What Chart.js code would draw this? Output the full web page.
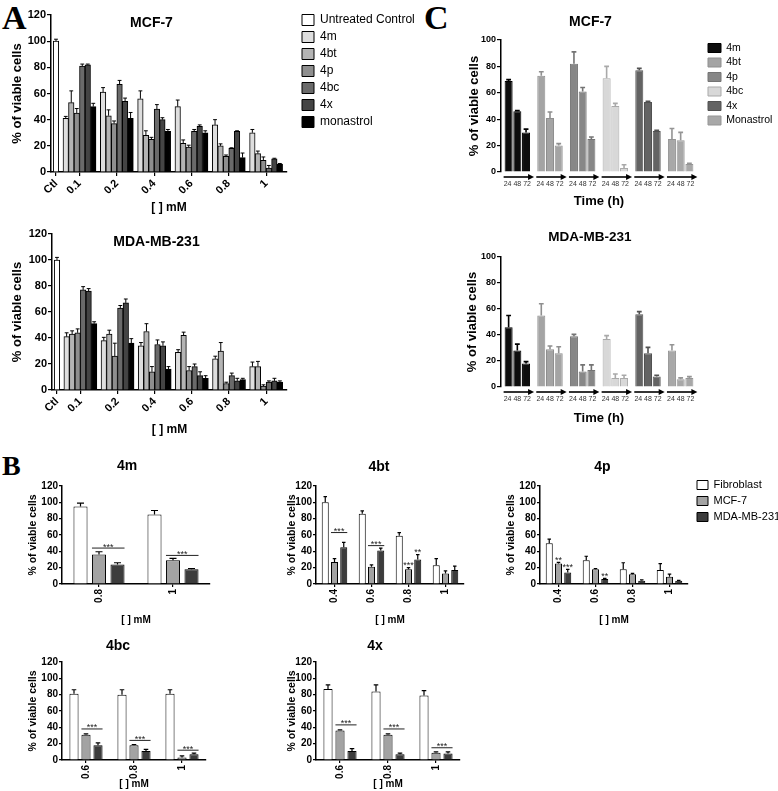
<!DOCTYPE html>
<html><head><meta charset="utf-8"><title>Cell viability</title>
<script src="https://cdn.jsdelivr.net/npm/chart.js@4.4.1/dist/chart.umd.min.js"></script>
<style>
html,body{margin:0;padding:0;background:#fff;overflow:hidden;}
#fig{position:relative;width:778px;height:791px;overflow:hidden;background:#fff;}
#fig canvas{position:absolute;}
.pl{position:absolute;font-family:"Liberation Serif","Times New Roman",serif;font-weight:bold;line-height:1;color:#000;}
</style></head><body>
<div id="fig">
 <div class="pl" style="left:2px;top:1px;font-size:34px">A</div>
 <div class="pl" style="left:2px;top:452px;font-size:28px">B</div>
 <div class="pl" style="left:424px;top:1px;font-size:34px">C</div>
</div>
<script>
// ================= DATA =================
const yTitle = '% of viable cells';
const doseTitle = '[ ] mM';
const timeTitle = 'Time (h)';

// ---- Panel A ----
const aDoses = ['Ctl', '0.1', '0.2', '0.4', '0.6', '0.8', '1'];
const aSeries = ['4m', '4bt', '4p', '4bc', '4x', 'monastrol'];
const aCtlLabel = 'Untreated Control';
const aMcfCtl = [100];
const aMcfCtlErr = [1.5];
const aMcfVals = [
  [41, 61, 56, 50, 36, 30],
  [53, 43, 28, 22, 20, 14],
  [45, 37, 25, 19, 12, 9],
  [81, 67, 48, 31, 18, 3],
  [82, 54, 40, 35, 31, 10],
  [50, 41, 31, 30, 11, 6]
];
const aMcfErrs = [
  [1.5, 3.5, 6, 5, 4, 2.5],
  [9, 4.5, 3.5, 2.5, 1.5, 2],
  [3.5, 2, 1.5, 1.5, 1, 2.5],
  [1.5, 3, 3.5, 1.5, 0.5, 2],
  [0.5, 2.5, 1.5, 1, 0.5, 0.5],
  [2.5, 4.5, 1.5, 1.5, 3.5, 0.5]
];
const aMdaCtl = [100];
const aMdaCtlErr = [2];
const aMdaVals = [
  [41, 38, 34, 29, 24, 18],
  [43, 43, 45, 42, 30, 18],
  [44, 26, 14, 15, 5, 3],
  [77, 63, 35, 18, 11, 6],
  [76, 67, 34, 11, 7, 7],
  [51, 36, 16, 9, 8, 6]
];
const aMdaErrs = [
  [3, 2.5, 2.5, 2, 2, 3.5],
  [2.5, 3, 6, 2.5, 6.5, 4],
  [3, 10, 4, 3, 1, 1],
  [2.5, 2, 3.5, 2, 2, 1],
  [2, 3, 3, 3, 2, 2],
  [1.5, 3.5, 2, 2, 1, 1]
];

// ---- Panel C (rows = compound, columns = 24/48/72 h) ----
const cCompounds = ['4m', '4bt', '4p', '4bc', '4x', 'Monastrol'];
const cTimes = ['24', '48', '72'];
const cMcfVals = [[69, 46, 30], [73, 41, 20], [82, 61, 25], [71, 50, 3], [77, 53, 31], [25, 24, 6]];
const cMcfErrs = [[1, 0.5, 2.5], [3, 4.5, 1.5], [9, 3, 1.5], [9, 2, 2.5], [1.5, 0.5, 0.5], [8, 6, 0.5]];
const cMdaVals = [[46, 28, 18], [55, 29, 26], [39, 12, 13], [37, 7, 7], [56, 26, 8], [28, 6, 7]];
const cMdaErrs = [[9, 5, 1.5], [9, 2.5, 5], [1.5, 5, 4], [2.5, 3, 2], [2, 4.5, 1], [4.5, 1, 1]];

// ---- Panel B (rows = Fibroblast, MCF-7, MDA-MB-231) ----
const bLines = ['Fibroblast', 'MCF-7', 'MDA-MB-231'];
const b4mDoses = ['0.8', '1'];
const b4mVals = [[95, 85], [36, 29], [24, 18]];
const b4mErrs = [[4, 5], [3.5, 2.5], [2, 1]];
const b4mSig = [{group: 0, bars: [1, 2], level: 44, label: '***'}, {group: 1, bars: [1, 2], level: 35, label: '***'}];

const b4btDoses = ['0.4', '0.6', '0.8', '1'];
const b4btVals = [[100, 86, 59, 23], [27, 21, 18, 13], [45, 41, 30, 17]];
const b4btErrs = [[7, 3.5, 4, 8], [4, 2.5, 2, 3], [6, 3, 6, 5]];
const b4btSig = [{group: 0, bars: [1, 2], level: 63, label: '***'}, {group: 1, bars: [1, 2], level: 47, label: '***'},
                 {group: 2, bar: 1, label: '***'}, {group: 2, bar: 2, label: '**'}];

const b4pDoses = ['0.4', '0.6', '0.8', '1'];
const b4pVals = [[50, 29, 18, 17], [25, 18, 12, 9], [14, 6, 4, 4]];
const b4pErrs = [[5, 5, 8, 8], [1.5, 1, 1, 3], [4, 1, 1, 0.5]];
const b4pSig = [{group: 0, bar: 1, label: '**'}, {group: 0, bar: 2, label: '***'}, {group: 1, bar: 2, label: '**'}];

const b4bcDoses = ['0.6', '0.8', '1'];
const b4bcVals = [[81, 80, 81], [31, 18, 3], [18, 11, 7]];
const b4bcErrs = [[5, 6, 5], [1, 1, 2], [3, 2, 1.5]];
const b4bcSig = [{group: 0, bars: [1, 2], level: 38, label: '***'}, {group: 1, bars: [1, 2], level: 24, label: '***'}, {group: 2, bars: [1, 2], level: 12, label: '***'}];

const b4xDoses = ['0.6', '0.8', '1'];
const b4xVals = [[87, 84, 79], [36, 31, 9], [11, 7, 8]];
const b4xErrs = [[5, 8, 6], [1, 1, 1], [3, 1.5, 2]];
const b4xSig = [{group: 0, bars: [1, 2], level: 43, label: '***'}, {group: 1, bars: [1, 2], level: 38, label: '***'}, {group: 2, bars: [1, 2], level: 15, label: '***'}];

// ================= STYLE / LAYOUT =================
const FONT = '"Liberation Sans", Arial, Helvetica, sans-serif';
Chart.defaults.font.family = FONT;
Chart.defaults.color = '#000';

const aTickSlots = [0.37, 1, 2, 3, 4, 5, 6];      // x-scale slots for the dose groups
const aCtlColor = '#ffffff';
const aColors = ['#dedede', '#b4b4b4', '#8e8e8e', '#6a6a6a', '#444444', '#000000'];
const cFill = ['#0d0d0d', '#a4a4a4', '#878787', '#d8d8d8', '#636363', '#a8a8a8'];
const cStroke = ['#000000', '#8f8f8f', '#747474', '#a9a9a9', '#525252', '#959595'];
const bFill = ['#ffffff', '#a3a3a3', '#3c3c3c'];

// ================= PLUGINS =================
const panelTitle = {
  id: 'panelTitle',
  afterDraw(chart, args, opts) {
    if (!opts || !opts.text) return;
    const {ctx, chartArea} = chart;
    ctx.save();
    ctx.font = 'bold ' + opts.size + 'px ' + FONT;
    ctx.fillStyle = '#000';
    ctx.textAlign = 'center';
    ctx.textBaseline = 'middle';
    const x = opts.x != null ? opts.x : (chartArea.left + chartArea.right) / 2;
    ctx.fillText(opts.text, x, opts.y);
    ctx.restore();
  }
};

const errorBars = {
  id: 'errorBars',
  afterDatasetsDraw(chart, args, opts) {
    const {ctx} = chart;
    const yScale = chart.scales.y;
    chart.data.datasets.forEach((ds, di) => {
      if (!ds.errors) return;
      const meta = chart.getDatasetMeta(di);
      meta.data.forEach((el, j) => {
        const p = meta.controller.getParsed(j);
        const v = p ? p.y : null;
        const e = ds.errors[j];
        if (v == null || isNaN(v) || e == null) return;
        const yTop = yScale.getPixelForValue(v + e);
        const color = Array.isArray(ds.errorColor) ? ds.errorColor[j] : (ds.errorColor || '#000');
        const half = el.width * (opts.cap || 0.3);
        ctx.save();
        ctx.strokeStyle = color;
        ctx.lineWidth = opts.lineWidth || 1;
        ctx.beginPath();
        ctx.moveTo(el.x, el.y);
        ctx.lineTo(el.x, yTop);
        ctx.moveTo(el.x - half, yTop);
        ctx.lineTo(el.x + half, yTop);
        ctx.stroke();
        ctx.restore();
      });
    });
  }
};

const timeArrows = {
  id: 'timeArrows',
  afterDatasetsDraw(chart, args, opts) {
    const {ctx, chartArea} = chart;
    const n = chart.data.labels.length;
    const first = chart.getDatasetMeta(0);
    const last = chart.getDatasetMeta(chart.data.datasets.length - 1);
    const y = chartArea.bottom + (opts.offset || 5);
    ctx.save();
    ctx.strokeStyle = '#000';
    ctx.fillStyle = '#000';
    ctx.lineWidth = 1.6;
    for (let i = 0; i < n; i++) {
      const a = first.data[i], b = last.data[i];
      const x1 = a.x - a.width / 2 - 1;
      const x2 = b.x + b.width / 2 + 4;
      ctx.beginPath();
      ctx.moveTo(x1, y);
      ctx.lineTo(x2 - 4, y);
      ctx.stroke();
      ctx.beginPath();
      ctx.moveTo(x2, y);
      ctx.lineTo(x2 - 6, y - 3);
      ctx.lineTo(x2 - 6, y + 3);
      ctx.closePath();
      ctx.fill();
    }
    ctx.restore();
  }
};

const sigMarks = {
  id: 'sigMarks',
  afterDatasetsDraw(chart, args, opts) {
    const items = (opts && opts.items) || [];
    const {ctx} = chart;
    const yS = chart.scales.y;
    ctx.save();
    ctx.font = '9px ' + FONT;
    ctx.fillStyle = '#222';
    ctx.strokeStyle = '#222';
    ctx.lineWidth = 1;
    ctx.textAlign = 'center';
    ctx.textBaseline = 'alphabetic';
    items.forEach(it => {
      if (it.bars) {
        const a = chart.getDatasetMeta(it.bars[0]).data[it.group];
        const b = chart.getDatasetMeta(it.bars[1]).data[it.group];
        const x1 = a.x - a.width / 2, x2 = b.x + b.width / 2;
        const py = yS.getPixelForValue(it.level);
        ctx.beginPath();
        ctx.moveTo(x1, py);
        ctx.lineTo(x2, py);
        ctx.stroke();
        ctx.fillText(it.label, (x1 + x2) / 2, py + 1.5);
      } else {
        const ds = chart.data.datasets[it.bar];
        const el = chart.getDatasetMeta(it.bar).data[it.group];
        const top = ds.data[it.group] + (ds.errors ? ds.errors[it.group] : 0);
        ctx.fillText(it.label, el.x, yS.getPixelForValue(top) + 0.5);
      }
    });
    ctx.restore();
  }
};

// ================= HELPERS =================
function addCanvas(left, top, w, h) {
  const c = document.createElement('canvas');
  c.width = w; c.height = h;
  c.style.left = left + 'px'; c.style.top = top + 'px';
  c.style.width = w + 'px'; c.style.height = h + 'px';
  document.getElementById('fig').appendChild(c);
  return c;
}
function measure(font, texts) {
  const ctx = document.createElement('canvas').getContext('2d');
  ctx.font = font;
  return Math.max(...texts.map(t => ctx.measureText(t).width));
}
function frame(f) {
  const r = {padTop: 0, gapTop: f.area.t, padRight: f.w - f.area.r, gapRight: 0, legendTitle: 0, legendWidth: 0};
  if (f.legend) {
    const L = f.legend;
    const itemH = Math.max(L.size, L.boxH);
    const legTop = L.firstCenter - itemH / 2 - L.pad;
    if (legTop <= f.area.t) { r.padTop = Math.max(legTop, 0); r.gapTop = f.area.t - r.padTop; }
    else { r.padTop = 0; r.gapTop = f.area.t; r.legendTitle = legTop; }
    const tw = measure(L.size + 'px ' + FONT, L.texts);
    const lw = L.pad + L.boxW + L.size / 2 + tw + 10;
    r.legendWidth = lw;
    r.gapRight = L.boxLeft - L.pad - f.area.r;
    r.padRight = f.w - f.area.r - r.gapRight - lw;
  }
  return r;
}
function spacers(fr) {
  const s = {
    gapTop: {type: 'linear', position: 'top', display: true, ticks: {display: false},
             grid: {display: false, drawTicks: false}, border: {display: false},
             afterFit: sc => { sc.height = fr.gapTop; }}
  };
  if (fr.gapRight > 0) {
    s.gapRight = {type: 'linear', position: 'right', display: true, ticks: {display: false},
                  grid: {display: false, drawTicks: false}, border: {display: false},
                  afterFit: sc => { sc.width = fr.gapRight; }};
  }
  return s;
}
function legendOpts(L, fr, extraLabels) {
  return {
    display: true, position: 'right', align: 'start',
    maxWidth: fr.legendWidth + 2,
    title: fr.legendTitle >= 1
      ? {display: true, text: '', font: {size: 1, lineHeight: 1}, padding: {top: fr.legendTitle - 1, bottom: 0}}
      : {display: false},
    labels: Object.assign({boxWidth: L.boxW, boxHeight: L.boxH, padding: L.pad, font: {size: L.size}, color: '#000'}, extraLabels || {})
  };
}
function yAxis(o) {
  return {
    type: 'linear', position: 'left', min: 0, max: o.max,
    ticks: {stepSize: 20, font: {size: o.tickSize, weight: 'bold'}, padding: 1, color: '#000'},
    grid: {drawOnChartArea: false, drawTicks: true, tickLength: o.tickLen, color: '#000', lineWidth: 1.2},
    border: {display: true, color: '#000', width: 1.5},
    title: {display: true, text: yTitle, color: '#000', font: {size: o.titleSize, weight: 'bold'}, padding: {top: o.titlePad, bottom: 0}},
    afterFit: s => { s.width = o.width; }
  };
}

// ================= PANEL A =================
function panelA(left, top, w, h, area, title, ctlVals, ctlErrs, vals, errs, legend) {
  const fr = frame({w, h, area, legend});
  const datasets = [{
    label: aCtlLabel, xAxisID: 'x', yAxisID: 'y',
    data: aDoses.map((d, i) => ({x: aTickSlots[i], y: i === 0 ? ctlVals[0] : null})),
    errors: aDoses.map((d, i) => i === 0 ? ctlErrs[0] : null),
    backgroundColor: aCtlColor, borderColor: '#000', borderWidth: 1,
    barThickness: 5.5, skipNull: true
  }];
  aSeries.forEach((s, k) => {
    datasets.push({
      label: s, xAxisID: 'x', yAxisID: 'y',
      data: aDoses.map((d, i) => ({x: aTickSlots[i], y: i === 0 ? null : vals[k][i - 1]})),
      errors: aDoses.map((d, i) => i === 0 ? null : errs[k][i - 1]),
      backgroundColor: aColors[k], borderColor: '#000', borderWidth: 1,
      barThickness: 5.5, skipNull: true
    });
  });
  const scales = Object.assign({
    x: {
      type: 'linear', min: 0.236, max: 6.56, offset: false,
      afterBuildTicks: s => { s.ticks = aTickSlots.map(v => ({value: v})); },
      ticks: {callback: (v, i) => aDoses[i], autoSkip: false, minRotation: 45, maxRotation: 45,
              font: {size: 11, weight: 'bold'}, padding: 1, color: '#000'},
      grid: {drawOnChartArea: false, drawTicks: true, tickLength: 4, color: '#000', lineWidth: 1.2, offset: false},
      border: {display: true, color: '#000', width: 1.5},
      title: {display: true, text: doseTitle, color: '#000', font: {size: 12, weight: 'bold'}, padding: {top: 0, bottom: 3}},
      afterFit: s => { s.height = h - area.b; }
    },
    y: yAxis({max: 120, tickSize: 11, tickLen: 4, titleSize: 13, titlePad: 10, width: area.l})
  }, spacers(fr));
  new Chart(addCanvas(left, top, w, h), {
    type: 'bar',
    data: {datasets},
    options: {
      responsive: false, animation: false, events: [],
      layout: {padding: {top: fr.padTop, right: fr.padRight, left: 0, bottom: 0}},
      plugins: {
        legend: legend ? legendOpts(legend, fr) : {display: false},
        tooltip: {enabled: false},
        panelTitle: title,
        errorBars: {cap: 0.35, lineWidth: 1}
      },
      scales
    },
    plugins: [panelTitle, errorBars]
  });
}

panelA(0, 0, 440, 218, {l: 51, t: 15, r: 287, b: 172}, {text: 'MCF-7', x: 151.5, y: 23, size: 14},
       aMcfCtl, aMcfCtlErr, aMcfVals, aMcfErrs,
       {size: 12, boxW: 12, boxH: 11, pad: 5, boxLeft: 302, firstCenter: 20, texts: [aCtlLabel].concat(aSeries)});
panelA(0, 220, 440, 220, {l: 52, t: 14, r: 287, b: 170}, {text: 'MDA-MB-231', x: 156.5, y: 21.7, size: 14},
       aMdaCtl, aMdaCtlErr, aMdaVals, aMdaErrs, null);

// ================= PANEL C =================
function panelC(left, top, w, h, area, title, vals, errs, legend, titlePadX, xTitlePad) {
  const fr = frame({w, h, area, legend});
  const datasets = cTimes.map((t, ti) => ({
    label: t + ' h', xAxisID: 'x', yAxisID: 'y',
    data: cCompounds.map((c, i) => vals[i][ti]),
    errors: cCompounds.map((c, i) => errs[i][ti]),
    errorColor: cStroke,
    backgroundColor: cFill, borderColor: cStroke, borderWidth: 1,
    categoryPercentage: 0.8, barPercentage: 0.92
  }));
  const scales = Object.assign({
    x: {
      type: 'category', offset: true,
      ticks: {callback: () => cTimes.join(' '), autoSkip: false, maxRotation: 0, minRotation: 0,
              font: {size: 7}, color: '#333', padding: 8},
      grid: {display: false, drawTicks: false},
      border: {display: false},
      title: {display: true, text: timeTitle, color: '#000', font: {size: 13, weight: 'bold'}, padding: {top: 0, bottom: xTitlePad}},
      afterFit: s => { s.height = h - area.b; }
    },
    y: yAxis({max: 100, tickSize: 9, tickLen: 4, titleSize: 13, titlePad: titlePadX, width: area.l})
  }, spacers(fr));
  new Chart(addCanvas(left, top, w, h), {
    type: 'bar',
    data: {labels: cCompounds, datasets},
    options: {
      responsive: false, animation: false, events: [],
      layout: {padding: {top: fr.padTop, right: fr.padRight, left: 0, bottom: 0}},
      plugins: {
        legend: legend ? legendOpts(legend, fr, {
          generateLabels: () => cCompounds.map((c, i) => ({text: c, fillStyle: cFill[i], strokeStyle: cStroke[i], lineWidth: 1, hidden: false, index: i}))
        }) : {display: false},
        tooltip: {enabled: false},
        panelTitle: title,
        errorBars: {cap: 0.3, lineWidth: 1.6},
        timeArrows: {offset: 5}
      },
      scales
    },
    plugins: [panelTitle, errorBars, timeArrows]
  });
}

panelC(440, 0, 348, 218, {l: 61, t: 40, r: 257, b: 172}, {text: 'MCF-7', x: 150.5, y: 22, size: 14},
       cMcfVals, cMcfErrs,
       {size: 10.5, boxW: 13, boxH: 9, pad: 4, boxLeft: 268, firstCenter: 48, texts: cCompounds}, 27, 8.5);
panelC(440, 220, 348, 218, {l: 61, t: 37, r: 257, b: 167}, {text: 'MDA-MB-231', x: 150, y: 17, size: 13.5},
       cMdaVals, cMdaErrs, null, 25, 11.5);

// ================= PANEL B =================
function panelB(left, top, w, h, area, title, doses, vals, errs, sig, yTitlePad, xTitlePad, legend) {
  const fr = frame({w, h, area, legend});
  const datasets = bLines.map((name, k) => ({
    label: name, xAxisID: 'x', yAxisID: 'y',
    data: vals[k], errors: errs[k],
    backgroundColor: bFill[k], borderColor: '#000', borderWidth: 1,
    categoryPercentage: 0.75, barPercentage: 0.76
  }));
  const scales = Object.assign({
    x: {
      type: 'category', offset: true,
      ticks: {autoSkip: false, minRotation: 90, maxRotation: 90, font: {size: 10, weight: 'bold'}, padding: 2, color: '#000'},
      grid: {drawOnChartArea: false, drawTicks: true, tickLength: 3, color: '#000', lineWidth: 1.2, offset: false},
      border: {display: true, color: '#000', width: 1.5},
      title: {display: true, text: doseTitle, color: '#000', font: {size: 10, weight: 'bold'}, padding: {top: 0, bottom: xTitlePad}},
      afterFit: s => { s.height = h - area.b; }
    },
    y: yAxis({max: 120, tickSize: 10, tickLen: 3, titleSize: 10.5, titlePad: yTitlePad, width: area.l})
  }, spacers(fr));
  new Chart(addCanvas(left, top, w, h), {
    type: 'bar',
    data: {labels: doses, datasets},
    options: {
      responsive: false, animation: false, events: [],
      layout: {padding: {top: fr.padTop, right: fr.padRight, left: 0, bottom: 0}},
      plugins: {
        legend: legend ? legendOpts(legend, fr) : {display: false},
        tooltip: {enabled: false},
        panelTitle: title,
        errorBars: {cap: 0.25, lineWidth: 1.2},
        sigMarks: {items: sig}
      },
      scales
    },
    plugins: [panelTitle, errorBars, sigMarks]
  });
}

const bArea1 = {l: 62, t: 41, r: 210, b: 139};
panelB(0, 445, 262, 190, bArea1, {text: '4m', x: 127, y: 21.5, size: 14}, b4mDoses, b4mVals, b4mErrs, b4mSig, 27, 9, null);
panelB(254, 445, 262, 190, bArea1, {text: '4bt', x: 125, y: 22, size: 14}, b4btDoses, b4btVals, b4btErrs, b4btSig, 32, 9, null);
panelB(478, 445, 300, 190, bArea1, {text: '4p', x: 124.5, y: 22, size: 14}, b4pDoses, b4pVals, b4pErrs, b4pSig, 27, 9,
       {size: 11, boxW: 11, boxH: 9, pad: 5, boxLeft: 219, firstCenter: 40, texts: bLines});
const bArea2 = {l: 62, t: 41, r: 206, b: 139};
panelB(0, 621, 262, 170, bArea2, {text: '4bc', x: 118, y: 25, size: 14}, b4bcDoses, b4bcVals, b4bcErrs, b4bcSig, 27, 1, null);
panelB(254, 621, 262, 170, bArea2, {text: '4x', x: 121, y: 25, size: 14}, b4xDoses, b4xVals, b4xErrs, b4xSig, 32, 1, null);
</script>
</body></html>
